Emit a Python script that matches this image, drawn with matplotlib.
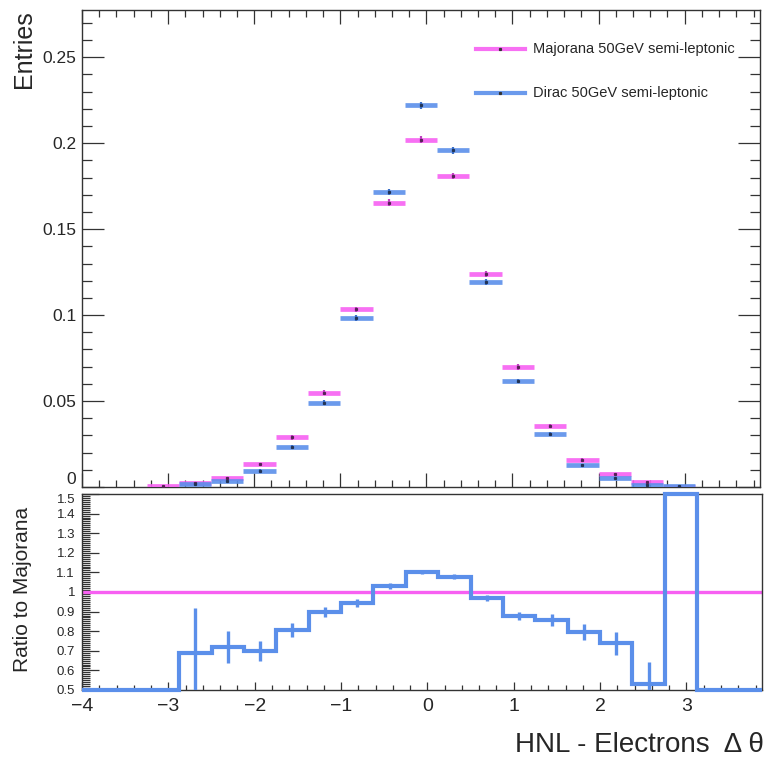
import numpy as np
import matplotlib
matplotlib.use("Agg")
import matplotlib.pyplot as plt
from matplotlib.ticker import MultipleLocator, FuncFormatter
from matplotlib.patches import Rectangle

plt.rcParams['font.family'] = ['Liberation Sans', 'DejaVu Sans']

# ---- data ----
bin_edges = [-4.0, -3.625, -3.25, -2.875, -2.5, -2.125, -1.75, -1.375, -1.0, -0.625,
             -0.25, 0.125, 0.5, 0.875, 1.25, 1.625, 2.0, 2.375, 2.75, 3.125, 3.5, 3.875]
majorana = [0, 0, 0.0004, 0.0023, 0.0050, 0.0132, 0.0289, 0.0548, 0.1033, 0.1655, 0.2021,
            0.1810, 0.1237, 0.0698, 0.0357, 0.0157, 0.0074, 0.0027, 0.0001, 0, 0]
majorana_err = [0, 0, 0.0002, 0.0005, 0.0007, 0.0010, 0.0013, 0.0015, 0.0017, 0.0019, 0.0020,
                0.0019, 0.0017, 0.0015, 0.0012, 0.0009, 0.0007, 0.0004, 0.0001, 0, 0]
dirac = [0, 0, 0, 0.0016, 0.0036, 0.0094, 0.0233, 0.0490, 0.0983, 0.1717, 0.2221,
         0.1960, 0.1194, 0.0618, 0.0308, 0.0126, 0.0055, 0.0014, 0.0003, 0, 0]
dirac_err = [0, 0, 0, 0.0004, 0.0006, 0.0009, 0.0012, 0.0014, 0.0017, 0.0019, 0.0021,
             0.0020, 0.0017, 0.0013, 0.0010, 0.0008, 0.0006, 0.0003, 0.0001, 0, 0]
ratio = [0, 0, 0, 0.69, 0.72, 0.70, 0.806, 0.896, 0.945, 1.032, 1.102,
         1.078, 0.971, 0.879, 0.857, 0.797, 0.738, 0.53, 3.0, 0, 0]
ratio_err = [0, 0, 0, 0.23, 0.08, 0.05, 0.037, 0.025, 0.02, 0.015, 0.012,
             0.012, 0.015, 0.02, 0.03, 0.04, 0.06, 0.115, 0, 0, 0]
labels = ["Majorana 50GeV semi-leptonic", "Dirac 50GeV semi-leptonic"]

PINK = '#f760f2'
BLUE = '#5b8fea'
TXT = '#262626'

edges = np.array(bin_edges)
lo, hi = edges[:-1], edges[1:]
centers = 0.5 * (lo + hi)

W, H = 766, 759
fig = plt.figure(figsize=(W / 100, H / 100), dpi=100)

def fx(px):
    return px / W

def fy(py):
    return 1 - py / H

ax = fig.add_axes([fx(82), fy(487), fx(760) - fx(82), fy(10) - fy(487)])
axr = fig.add_axes([fx(82), fy(690), fx(762) - fx(82), fy(494) - fy(690)])
ax.set_zorder(0)
axr.set_zorder(2)

# white pad covering lower part of main pad (like ROOT's opaque pad)
fig.patches.append(Rectangle((0, 0), 1, fy(490), transform=fig.transFigure,
                             facecolor='white', edgecolor='none', zorder=1))

# ---- main plot ----
maj = np.array(majorana)
dir_ = np.array(dirac)
mmask = maj > 0
dmask = dir_ > 0
ax.hlines(maj[mmask], lo[mmask], hi[mmask], colors=PINK, lw=3.4, alpha=0.9, zorder=3)
ax.hlines(dir_[dmask], lo[dmask], hi[dmask], colors=BLUE, lw=3.4, alpha=0.9, zorder=3)
ax.errorbar(centers[mmask], maj[mmask], yerr=np.array(majorana_err)[mmask], fmt='none',
            ecolor='#c040c0', elinewidth=1.6, zorder=4)
ax.errorbar(centers[dmask], dir_[dmask], yerr=np.array(dirac_err)[dmask], fmt='none',
            ecolor='#3a6fc8', elinewidth=1.6, zorder=4)
ax.plot(centers[mmask], maj[mmask], 's', ms=1.3, color='#552255', zorder=5)
ax.plot(centers[dmask], dir_[dmask], 's', ms=1.3, color='#223355', zorder=5)

ax.set_xlim(edges[0], edges[-1])
ax.set_ylim(0, 0.2775)
ax.xaxis.set_major_locator(MultipleLocator(1))
ax.xaxis.set_minor_locator(MultipleLocator(0.2))
ax.yaxis.set_major_locator(MultipleLocator(0.05))
ax.yaxis.set_minor_locator(MultipleLocator(0.01))
ax.tick_params(axis='both', which='both', direction='in', top=True, right=True,
               color='#333333', width=0.9)
ax.tick_params(axis='x', which='major', length=10, labelbottom=False)
ax.tick_params(axis='x', which='minor', length=5)
ax.tick_params(axis='y', which='major', length=16, labelsize=12.5, labelcolor=TXT, pad=4)
ax.tick_params(axis='y', which='minor', length=7)
ax.yaxis.set_major_formatter(FuncFormatter(lambda v, p: '%g' % round(v, 4)))
for s in ax.spines.values():
    s.set_linewidth(1.0)
    s.set_color('#333333')

# legend (manual, ROOT-like)
for i, (lab, col) in enumerate(zip(labels, [PINK, BLUE])):
    yy = fy([49, 93][i])
    fig.add_artist(plt.Line2D([fx(476), fx(525)], [yy, yy], transform=fig.transFigure,
                              color=col, lw=3.0, alpha=0.9))
    fig.add_artist(plt.Line2D([fx(500.5)], [yy], transform=fig.transFigure, marker='s',
                              ms=1.3, color='#333333'))
    fig.text(fx(533), yy, lab, fontsize=10.5, color=TXT, ha='left', va='center')

# ---- ratio plot ----
r = np.clip(np.array(ratio), 0.5, 1.5)
axr.axhline(1.0, color=PINK, lw=2.4, zorder=2)
axr.stairs(r, edges, color=BLUE, lw=3.0, zorder=3, clip_on=False, baseline=None)
re = np.array(ratio_err)
emask = re > 0
axr.errorbar(centers[emask], r[emask], yerr=re[emask], fmt='none', ecolor=BLUE,
             elinewidth=2.4, zorder=3, clip_on=True)
axr.set_xlim(edges[0], edges[-1])
axr.set_ylim(0.5, 1.5)
axr.xaxis.set_major_locator(MultipleLocator(1))
axr.xaxis.set_minor_locator(MultipleLocator(0.2))
axr.yaxis.set_major_locator(MultipleLocator(0.1))
axr.yaxis.set_minor_locator(MultipleLocator(0.01))
axr.tick_params(axis='both', which='both', direction='in', color='#333333', width=0.9)
axr.tick_params(axis='x', which='major', length=6, labelsize=14, labelcolor=TXT, pad=6)
axr.tick_params(axis='x', which='minor', length=3.5)
axr.tick_params(axis='y', which='major', length=12, labelsize=9.5, labelcolor=TXT, pad=5)
axr.tick_params(axis='y', which='minor', length=6)
axr.yaxis.set_major_formatter(FuncFormatter(lambda v, p: '%g' % round(v, 3)))
for s in axr.spines.values():
    s.set_linewidth(1.0)
    s.set_color('#333333')

# keep the main "0" and the ratio "1.5" labels from colliding at the pad boundary
fig.canvas.draw()
for t in axr.get_yticklabels():
    if t.get_text() == '1.5':
        t.set_verticalalignment('top')
for t in ax.get_yticklabels():
    if t.get_text() == '0':
        t.set_verticalalignment('bottom')

# axis titles
fig.text(fx(24), fy(10), 'Entries', rotation=90, fontsize=18, color=TXT,
         ha='center', va='top')
fig.text(fx(23), fy(589), 'Ratio to Majorana', rotation=90, fontsize=15, color=TXT,
         ha='center', va='center')
fig.text(fx(764), fy(745), 'HNL - Electrons  Δ θ', fontsize=20, color=TXT,
         ha='right', va='center')

fig.savefig('out.png', dpi=100)
